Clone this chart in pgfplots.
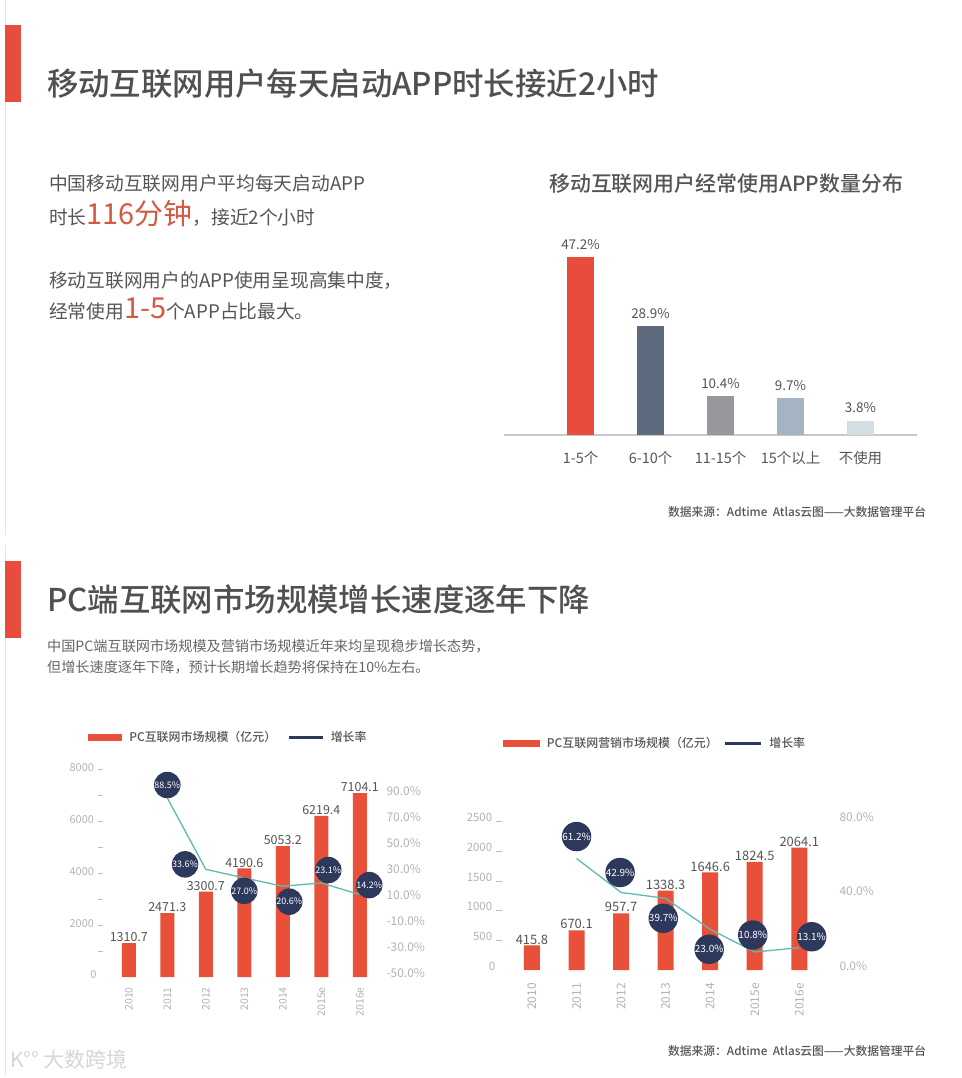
\documentclass[border=0pt]{standalone}
\usepackage{fontspec}
\setmainfont{Noto Sans CJK SC}[BoldFont={Noto Sans CJK SC Medium}]
\usepackage{pgfplots}
\pgfplotsset{compat=1.18}
\usepackage{pgfplotstable}

\definecolor{redA}{HTML}{E84C3D}
\definecolor{barred}{HTML}{E8503A}
\definecolor{slate}{HTML}{5E6A7E}
\definecolor{midgray}{HTML}{97989C}
\definecolor{bluegray}{HTML}{A4B4C2}
\definecolor{palegray}{HTML}{D4DDE2}
\definecolor{navy}{HTML}{2C395C}
\definecolor{lineteal}{HTML}{5CBCB2}
\definecolor{titlegray}{HTML}{505050}
\definecolor{textgray}{HTML}{555555}
\definecolor{subgray}{HTML}{666666}
\definecolor{ticktext}{HTML}{B3B3B3}
\definecolor{tickgray}{HTML}{BBBBBB}
\definecolor{axisgray}{HTML}{C8C8C8}
\definecolor{accent}{HTML}{D55A42}
\definecolor{borderline}{HTML}{E3E3E3}
\definecolor{logogray}{HTML}{D6D6D6}

\newcommand\fs[1]{\fontsize{#1}{#1}\selectfont}

% growth rate, with the offset of each circle label (pt)
\pgfplotstableread{
x y dx dy
1 88.5 0 13
2 33.6 -20.8 5
3 27.0 0 -13
4 20.6 6.5 -15.5
5 23.1 7 13
6 14.2 9.5 9.5
}\pcgrowth
\pgfplotstableread{
x y dx dy
1 61.2 0 22
2 42.9 -1 20
3 39.7 -2.4 -20
4 23.0 -1 -20
5 10.8 -2 17
6 13.1 12.4 11
}\adgrowth
\pgfplotstableread{
x y
0 1310.7
1 2471.3
2 3300.7
3 4190.6
4 5053.2
5 6219.4
6 7104.1
}\pcsize
\pgfplotstableread{
x y
0 415.8
1 670.1
2 957.7
3 1338.3
4 1646.6
5 1824.5
6 2064.1
}\adsize

\pgfplotsset{
  /pgf/number format/assume math mode=true,
  years/.style={
    xtick={0,...,6}, xticklabels={2010,2011,2012,2013,2014,2015e,2016e},
    x tick style={draw=none},
    xticklabel style={rotate=90, anchor=east, text=ticktext, inner sep=2bp},
  },
  circlelabels/.style={
    point meta=y,
    visualization depends on={\thisrow{dx} \as \dx},
    visualization depends on={\thisrow{dy} \as \dy},
    nodes near coords={\pgfmathprintnumber[fixed,fixed zerofill,precision=1]{\pgfplotspointmeta}\%},
    every node near coord/.append style={circle, fill=navy, text=white,
      minimum size=#1, inner sep=0pt, anchor=center, xshift=\dx pt, yshift=\dy pt},
  },
  legendrect/.style={legend image code/.code={
    \fill[barred, draw=none] (0bp,-3.3bp) rectangle (#1,3.3bp);
    \path[draw=none] (0bp,0bp) -- (#1+5bp,0bp);}},
  legendline/.style={legend image code/.code={
    \draw[navy, line width=3bp] (0bp,0bp) -- (#1,0bp);
    \path[draw=none] (0bp,0bp) -- (#1+6bp,0bp);}},
}

\begin{document}
\begin{tikzpicture}
\path[use as bounding box, fill=white] (0bp,0bp) rectangle (962bp,-1078bp);

\begin{scope}[x=1bp, y=-1bp]
  \draw[borderline, line width=1bp] (5,0) -- (5,535) (5,545) -- (5,1075);
  \fill[redA] (5,25) rectangle (21,102);
  \fill[redA] (5,561) rectangle (21,638);

  \node[anchor=base west, inner sep=0, text=titlegray, font=\fs{31.5}\bfseries]
    at (47,95) {移动互联网用户每天启动APP时长接近2小时};

  \begin{scope}[every node/.style={anchor=base west, inner sep=0, text=textgray, font=\fs{18.8}}]
    \node at (49,190) {中国移动互联网用户平均每天启动APP};
    \node at (49,224) {时长{\fs{29}\color{accent}116分钟}，接近2个小时};
    \node at (49,287) {移动互联网用户的APP使用呈现高集中度，};
    \node at (49,318) {经常使用{\fs{29}\color{accent}1-5}个APP占比最大。};
  \end{scope}

  \node[anchor=base west, inner sep=0, text=textgray, font=\fs{21}\bfseries]
    at (549,191) {移动互联网用户经常使用APP数量分布};

  \node[anchor=base west, inner sep=0, text=textgray, font=\fs{11.8}\bfseries]
    at (668,516) {数据来源：Adtime\ \ Atlas云图——大数据管理平台};

  \node[anchor=base west, inner sep=0, text=titlegray, font=\fs{31.5}\bfseries]
    at (47,611) {PC端互联网市场规模增长速度逐年下降};
  \node[anchor=base west, inner sep=0, text=subgray, font=\fs{14.2}]
    at (47,651) {中国PC端互联网市场规模及营销市场规模近年来均呈现稳步增长态势，};
  \node[anchor=base west, inner sep=0, text=subgray, font=\fs{14.2}]
    at (47,672) {但增长速度逐年下降，预计长期增长趋势将保持在10\%左右。};

  \node[anchor=base west, inner sep=0, text=textgray, font=\fs{11.8}\bfseries]
    at (668,1055) {数据来源：Adtime\ \ Atlas云图——大数据管理平台};

  \node[anchor=west, inner sep=0, text=logogray, font=\fs{21}]
    at (10,1060) {K°° 大数跨境};
\end{scope}

% ---- top: number of apps used
\begin{axis}[
  at={(504bp,-435bp)}, anchor=south west,
  scale only axis, width=413bp, height=188.5bp,
  xmin=-1.093, xmax=4.807, ymin=0, ymax=50,
  clip=false,
  axis x line=bottom, axis y line=none,
  x axis line style={draw=axisgray, line width=1.2bp, -},
  xtick={0,...,4}, xticklabels={1-5个,6-10个,11-15个,15个以上,不使用},
  major tick length=0pt,
  xticklabel style={font=\fs{14.5}, text=textgray, yshift=-13bp},
  ybar, bar width=27bp, bar shift=0pt,
  nodes near coords={\pgfmathprintnumber[fixed,fixed zerofill,precision=1]{\pgfplotspointmeta}\%},
  every node near coord/.append style={font=\fs{13.5}, text=textgray, yshift=4bp},
]
\addplot[fill=redA, draw=none] coordinates {(0,47.2)};
\addplot[fill=slate, draw=none] coordinates {(1,28.9)};
\addplot[fill=midgray, draw=none] coordinates {(2,10.4)};
\addplot[fill=bluegray, draw=none] coordinates {(3,9.7)};
\addplot[fill=palegray, draw=none] coordinates {(4,3.8)};
\end{axis}

% ---- bottom left: PC internet market size
\begin{axis}[
  at={(100bp,-980bp)}, anchor=south west,
  scale only axis, width=283bp, height=215bp,
  xmin=-0.748, xmax=6.603, ymin=-115.8, ymax=8185,
  clip=false,
  axis x line=bottom, axis y line=left,
  axis line style={draw=none},
  years, xticklabel style={font=\fs{10.5}},
  ytick={2000,4000,6000,8000}, minor ytick={1000,3000,5000,7000},
  extra y ticks={0}, extra y tick style={major tick length=0pt},
  y tick style={draw=tickgray, line width=0.9bp},
  tick align=center, major tick length=5bp, minor tick length=5bp,
  yticklabel style={font=\fs{11}, text=ticktext, yshift=2bp},
  /pgf/number format/1000 sep={},
  ybar, bar width=14bp, bar shift=0pt,
  nodes near coords={\pgfmathprintnumber[fixed,fixed zerofill,precision=1,1000 sep={}]{\pgfplotspointmeta}},
  every node near coord/.append style={font=\fs{12.5}, text=textgray, inner sep=1bp},
]
\addplot[fill=barred, draw=none] table[x=x, y=y] {\pcsize};
\end{axis}

\begin{axis}[
  at={(100bp,-980bp)}, anchor=south west,
  scale only axis, width=283bp, height=215bp,
  xmin=-0.748, xmax=6.603, ymin=-51.54, ymax=113.85,
  clip=false,
  axis x line=none, axis y line=right,
  axis line style={draw=none},
  ytick={-50,-30,...,90}, major tick length=0pt,
  yticklabel={\pgfmathprintnumber[fixed,fixed zerofill,precision=1]{\tick}\%},
  yticklabel style={font=\fs{12}, text=ticktext, yshift=5bp},
  legend style={at={(-0.042,1.128)}, anchor=west, draw=none, fill=none, inner sep=0pt,
    font={\fs{12}\bfseries\color{textgray}}, legend columns=-1,
    /tikz/every even column/.append style={column sep=9bp}},
]
\addlegendimage{legendrect=34bp}
\addlegendentry{PC互联网市场规模（亿元）}
\addlegendimage{legendline=34bp}
\addlegendentry{增长率}
\addplot[lineteal, line width=1.3bp, mark=none, forget plot, circlelabels=21bp,
  every node near coord/.append style={font=\fs{9}}] table[x=x, y=y] {\pcgrowth};
\end{axis}

% ---- bottom right: PC internet marketing market size
\begin{axis}[
  at={(498.7bp,-975bp)}, anchor=south west,
  scale only axis, width=337.3bp, height=175bp,
  xmin=-0.747, xmax=6.824, ymin=-84.4, ymax=2869,
  clip=false,
  axis x line=bottom, axis y line=left,
  axis line style={draw=none},
  years, xticklabel style={font=\fs{12}},
  ytick={500,1000,...,2500},
  extra y ticks={0}, extra y tick style={major tick length=0pt},
  y tick style={draw=tickgray, line width=0.9bp},
  tick align=center, major tick length=6bp,
  yticklabel style={font=\fs{11.5}, text=ticktext, yshift=4bp},
  /pgf/number format/1000 sep={},
  ybar, bar width=16bp, bar shift=0pt,
  nodes near coords={\pgfmathprintnumber[fixed,fixed zerofill,precision=1,1000 sep={}]{\pgfplotspointmeta}},
  every node near coord/.append style={font=\fs{13}, text=textgray, inner sep=1bp},
]
\addplot[fill=barred, draw=none] table[x=x, y=y] {\adsize};
\end{axis}

\begin{axis}[
  at={(498.7bp,-975bp)}, anchor=south west,
  scale only axis, width=337.3bp, height=175bp,
  xmin=-0.747, xmax=6.824, ymin=-1.617, ymax=92.72,
  clip=false,
  axis x line=none, axis y line=right,
  axis line style={draw=none},
  ytick={0,40,80}, major tick length=0pt,
  yticklabel={\pgfmathprintnumber[fixed,fixed zerofill,precision=1]{\tick}\%},
  yticklabel style={font=\fs{12}, text=ticktext, yshift=6.3bp},
  legend style={at={(0.012,1.323)}, anchor=west, draw=none, fill=none, inner sep=0pt,
    font={\fs{12}\bfseries\color{textgray}}, legend columns=-1,
    /tikz/every even column/.append style={column sep=4bp}},
]
\addlegendimage{legendrect=37bp}
\addlegendentry{PC互联网营销市场规模（亿元）}
\addlegendimage{legendline=36bp}
\addlegendentry{增长率}
\addplot[lineteal, line width=1.3bp, mark=none, forget plot, circlelabels=26bp,
  every node near coord/.append style={font=\fs{10}}] table[x=x, y=y] {\adgrowth};
\end{axis}
\end{tikzpicture}
\end{document}
